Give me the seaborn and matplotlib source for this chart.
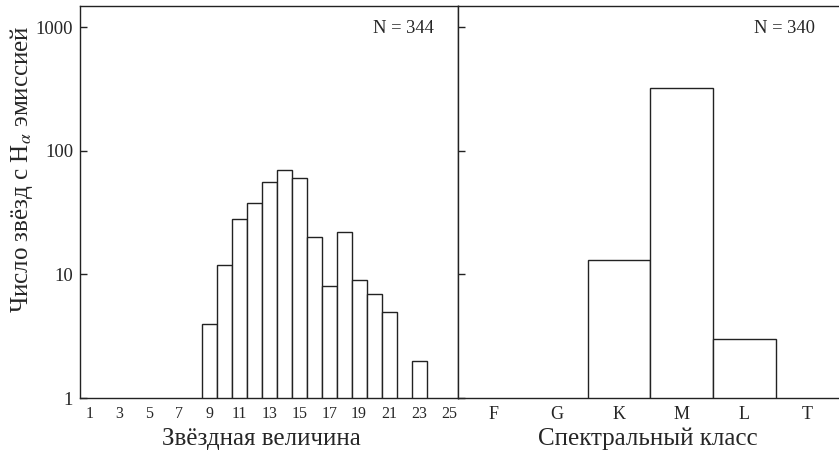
import matplotlib
matplotlib.use("Agg")
import matplotlib.pyplot as plt
import seaborn as sns
import numpy as np

# ---- data ----
magnitudes = [9, 10, 11, 12, 13, 14, 15, 16, 17, 18, 19, 20, 21, 23]
mag_counts = [4, 12, 28, 38, 56, 70, 60, 20, 8, 22, 9, 7, 5, 2]
mag_ticks = [1, 3, 5, 7, 9, 11, 13, 15, 17, 19, 21, 23, 25]

spec_classes = ["F", "G", "K", "M", "L", "T"]
spec_counts = [0, 0, 13, 320, 3, 0]

y_ticks = [1, 10, 100, 1000]
n_left = "N = 344"
n_right = "N = 340"

sns.set_theme(style="ticks")
plt.rcParams["font.family"] = ["Liberation Serif", "DejaVu Serif"]
plt.rcParams["mathtext.fontset"] = "stix"

fig = plt.figure(figsize=(8.39, 4.61), dpi=100)
ax1 = fig.add_axes([80 / 839, 1 - 398 / 461, (458.3 - 80) / 839, (398 - 6) / 461])
ax2 = fig.add_axes([458.3 / 839, 1 - 398 / 461, (840 - 458.3) / 839, (398 - 6) / 461])

edge = "#222222"
sns.barplot(x=magnitudes, y=mag_counts, native_scale=True, width=1.0,
            color="white", edgecolor=edge, linewidth=1.0, ax=ax1)
sns.barplot(x=spec_classes, y=spec_counts, order=spec_classes, width=1.0,
            color="white", edgecolor=edge, linewidth=1.0, ax=ax2)

for ax in (ax1, ax2):
    ax.set_yscale("log")
    ax.set_ylim(1, 1480)
    ax.set_yticks(y_ticks)
    ax.yaxis.set_minor_locator(matplotlib.ticker.NullLocator())
    ax.tick_params(axis="y", direction="in", length=5, width=1, color=edge,
                   labelsize=13.5, pad=5)
    ax.tick_params(axis="x", length=0, pad=6)
    for s in ax.spines.values():
        s.set_color(edge)
        s.set_linewidth(1.0)
        s.set_visible(True)

ax1.set_xlim(0.37, 25.62)
ax1.set_xticks(mag_ticks)
ax1.set_xticklabels([str(t) for t in mag_ticks])
ax1.tick_params(axis="x", labelsize=11.5)
ax1.set_yticklabels(["1", "10", "100", "1000"])
ax1.set_xlabel("Звёздная величина", fontsize=18)
ax1.xaxis.set_label_coords(0.479, -0.076)
ax1.set_ylabel(r"Число звёзд с H$_{\alpha}$ эмиссией", fontsize=18)
ax1.yaxis.set_label_coords(-0.118, 0.584)
ax1.text(0.935, 0.965, n_left, transform=ax1.transAxes, ha="right", va="top", fontsize=13.3)

ax2.set_xlim(-0.57, 5.53)
ax2.tick_params(axis="x", labelsize=13)
ax2.set_yticklabels([])
ax2.set_ylabel("")
ax2.spines["right"].set_visible(False)
ax2.set_xlabel("Спектральный класс", fontsize=18)
ax2.xaxis.set_label_coords(0.4975, -0.076)
ax2.text(0.935, 0.965, n_right, transform=ax2.transAxes, ha="right", va="top", fontsize=13.3)

fig.savefig("out.png", dpi=100)
